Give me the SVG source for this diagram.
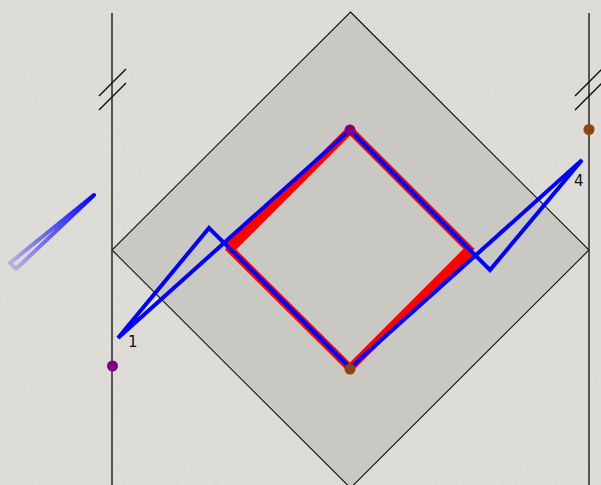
<svg xmlns="http://www.w3.org/2000/svg" width="601" height="485" viewBox="0 0 601 485">
  <defs>
    <filter id="paper" x="0" y="0" width="100%" height="100%">
      <feTurbulence type="fractalNoise" baseFrequency="0.9" numOctaves="3" seed="4" result="n"/>
      <feColorMatrix in="n" type="matrix" values="0 0 0 0 0.4  0 0 0 0 0.39  0 0 0 0 0.36  0 0 0 0.12 0"/>
    </filter>
    <linearGradient id="fade" gradientUnits="userSpaceOnUse" x1="94" y1="195" x2="12" y2="267">
      <stop offset="0" stop-color="#0000ff" stop-opacity="1"/>
      <stop offset="1" stop-color="#0000ff" stop-opacity="0.18"/>
    </linearGradient>
    <style>
      .axis { stroke: #333; stroke-width: 1.6; fill: none; }
      .brk { stroke: #111; stroke-width: 1.5; fill: none; }
      .edge { stroke: #111; stroke-width: 1.1; }
      .ray { stroke: #0000ff; stroke-width: 4; fill: none; stroke-linejoin: miter; }
      .red { fill: #ff0000; }
      .redline { stroke: #ff0000; stroke-width: 8; fill: none; stroke-linejoin: miter; }
      .lbl { font-family: "DejaVu Sans", "Liberation Sans", sans-serif; font-size: 15px; fill: #111; }
    </style>
  </defs>

  <rect x="0" y="0" width="601" height="485" fill="#e1dfd9"/>
  <rect x="0" y="0" width="601" height="485" filter="url(#paper)"/>

  <g id="region">
    <polygon class="edge" points="350.5,12 589,250 350.5,488 112,250" fill="#cac8c2"/>
  </g>

  <g id="boundary-left">
    <line class="axis" x1="112" y1="13" x2="112" y2="485"/>
    <line class="brk" x1="99" y1="96" x2="126" y2="69"/>
    <line class="brk" x1="99" y1="110" x2="126" y2="83"/>
  </g>
  <g id="boundary-right">
    <line class="axis" x1="589" y1="13" x2="589" y2="485"/>
    <line class="brk" x1="575" y1="96" x2="602" y2="69"/>
    <line class="brk" x1="575" y1="110" x2="602" y2="83"/>
  </g>

  <g id="red-diamond">
    <polygon class="redline" points="350,130 469,249 350,368 230.5,249.5"/>
    <polygon class="red" points="350,130 230.5,249.5 224.6,242.6"/>
    <polygon class="red" points="350,368 469,249 475.4,255.4"/>
  </g>

  <g id="connectors">
    <polygon class="ray" points="118,338 209,228 350,368 582,160 490,270 350,130"/>
    <polygon points="94,195 10,263 16,269" fill="none" stroke="url(#fade)" stroke-width="4" stroke-linejoin="round"/>
  </g>

  <g id="point-top">
    <circle cx="350" cy="130" r="5.5" fill="#800080"/>
  </g>
  <g id="point-bottom">
    <circle cx="350" cy="369" r="5.5" fill="#8b4513"/>
  </g>
  <g id="point-left">
    <circle cx="112.5" cy="366" r="5.5" fill="#800080"/>
  </g>
  <g id="point-right">
    <circle cx="589" cy="129.5" r="5.5" fill="#8b4513"/>
  </g>

  <g id="label-1">
    <text class="lbl" x="128" y="347">1</text>
  </g>
  <g id="label-4">
    <text class="lbl" x="574" y="186">4</text>
  </g>
</svg>
